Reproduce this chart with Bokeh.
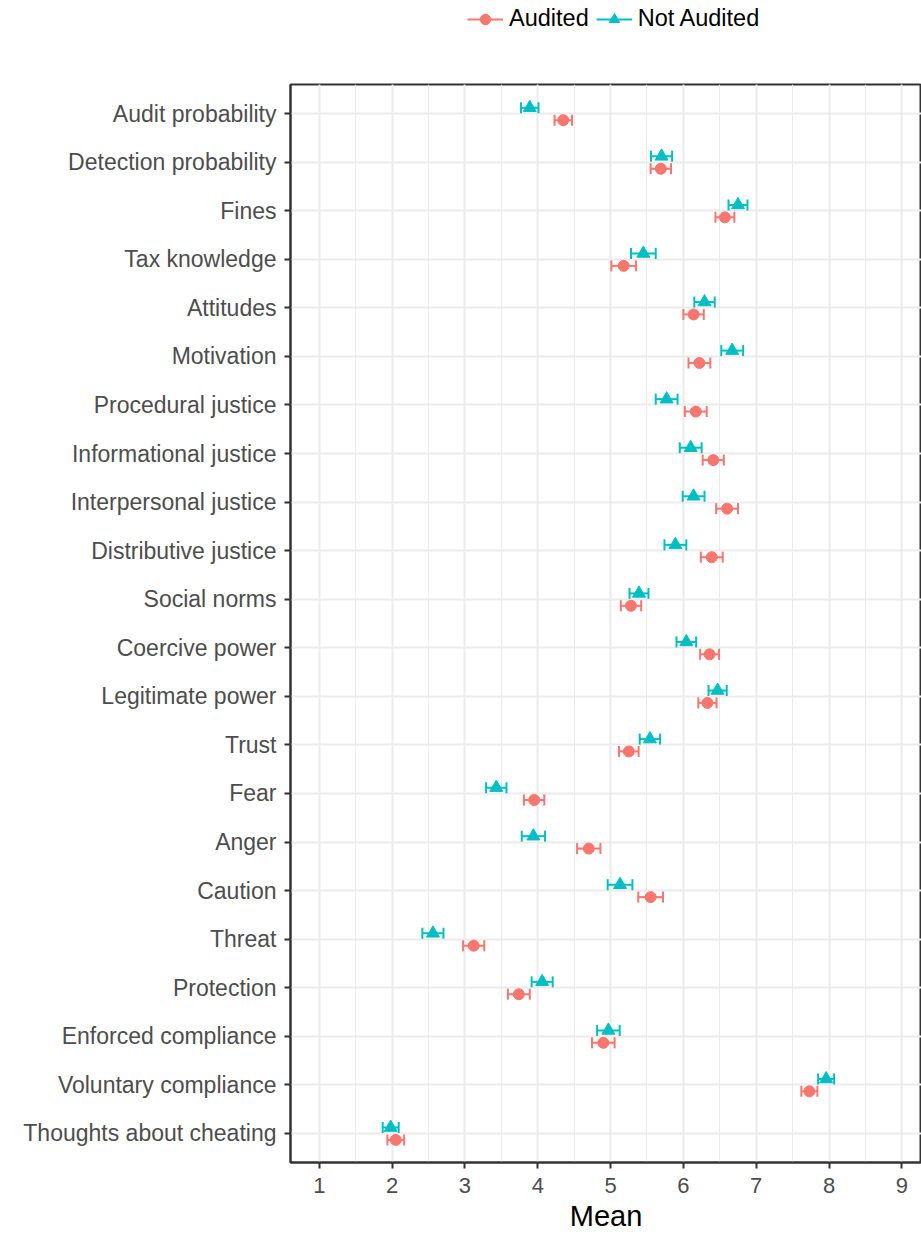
import math
from bokeh.plotting import figure
from bokeh.layouts import column
from bokeh.models import (ColumnDataSource, Range1d, FactorRange, Legend, LegendItem,
                          SingleIntervalTicker)
from bokeh.transform import dodge
from bokeh.embed import file_html
from bokeh.resources import INLINE

categories = ["Audit probability", "Detection probability", "Fines", "Tax knowledge",
              "Attitudes", "Motivation", "Procedural justice", "Informational justice",
              "Interpersonal justice", "Distributive justice", "Social norms",
              "Coercive power", "Legitimate power", "Trust", "Fear", "Anger", "Caution",
              "Threat", "Protection", "Enforced compliance", "Voluntary compliance",
              "Thoughts about cheating"]

audited_mean = [4.35, 5.69, 6.57, 5.18, 6.14, 6.22, 6.17, 6.41, 6.60, 6.39, 5.28,
                6.36, 6.33, 5.25, 3.95, 4.70, 5.55, 3.12, 3.74, 4.90, 7.73, 2.05]
audited_ci = [0.12, 0.14, 0.13, 0.17, 0.14, 0.15, 0.15, 0.145, 0.15, 0.15, 0.14,
              0.13, 0.125, 0.135, 0.14, 0.16, 0.17, 0.145, 0.15, 0.155, 0.11, 0.115]
not_audited_mean = [3.89, 5.70, 6.75, 5.45, 6.29, 6.67, 5.77, 6.10, 6.14, 5.89, 5.39,
                    6.04, 6.47, 5.54, 3.43, 3.94, 5.13, 2.56, 4.06, 4.97, 7.96, 1.98]
not_audited_ci = [0.12, 0.145, 0.13, 0.17, 0.14, 0.15, 0.15, 0.15, 0.15, 0.15, 0.13,
                  0.135, 0.125, 0.14, 0.14, 0.16, 0.17, 0.145, 0.145, 0.155, 0.11, 0.11]

x_ticks = [1, 2, 3, 4, 5, 6, 7, 8, 9]
series_names = ["Audited", "Not Audited"]

RED = "#F8766D"
TEAL = "#00BFC4"
FONT = "Liberation Sans"

factors = list(reversed(categories))

p = figure(width=921, height=1152, output_backend="svg", toolbar_location=None,
           x_range=Range1d(0.604, 9.27),
           y_range=FactorRange(factors=factors, range_padding=0.1,
                               range_padding_units="absolute"),
           min_border_left=290, min_border_right=0, min_border_top=2,
           min_border_bottom=72)
p.background_fill_color = "white"
p.border_fill_color = "white"
p.outline_line_color = "#333333"
p.outline_line_width = 2

# small strip on top holding the legend
leg_fig = figure(width=921, height=82, output_backend="svg", toolbar_location=None,
                 min_border=0)
leg_fig.outline_line_color = None
leg_fig.axis.visible = False
leg_fig.grid.visible = False
leg_fig.background_fill_color = "white"
leg_fig.border_fill_color = "white"


def src(means, cis):
    return ColumnDataSource(dict(
        cat=categories,
        mean=means,
        lo=[m - c for m, c in zip(means, cis)],
        hi=[m + c for m, c in zip(means, cis)],
    ))

s_aud = src(audited_mean, audited_ci)
s_not = src(not_audited_mean, not_audited_ci)

legend_renderers = {}
for name, s, color, off, marker, msize in [
        ("Not Audited", s_not, TEAL, 0.12, "triangle", 13),
        ("Audited", s_aud, RED, -0.135, "circle", 11)]:
    ypos = dodge("cat", off, range=p.y_range)
    p.segment(x0="lo", x1="hi", y0=ypos, y1=ypos, source=s,
              line_color=color, line_width=2)
    p.scatter(x="lo", y=ypos, source=s, marker="dash", angle=math.pi / 2,
              size=11, line_color=color, line_width=2)
    p.scatter(x="hi", y=ypos, source=s, marker="dash", angle=math.pi / 2,
              size=11, line_color=color, line_width=2)
    p.scatter(x="mean", y=ypos, source=s, marker=marker, size=msize,
              fill_color=color, line_color=color)
    # legend keys (hidden renderers in the legend strip)
    lseg = leg_fig.segment(x0="lo", x1="hi", y0="mean", y1="mean", source=s,
                           line_color=color, line_width=2, visible=False)
    lpts = leg_fig.scatter(x="mean", y="mean", source=s, marker=marker, size=msize,
                           fill_color=color, line_color=color, visible=False)
    legend_renderers[name] = [lseg, lpts]

# axes
p.xaxis.ticker = SingleIntervalTicker(interval=1, num_minor_ticks=2)
p.xaxis.axis_label = "Mean"
p.xaxis.axis_label_text_font = FONT
p.xaxis.axis_label_text_font_size = "29px"
p.xaxis.axis_label_text_font_style = "normal"
p.xaxis.axis_label_text_color = "black"
p.xaxis.axis_label_text_line_height = 1.0
p.xaxis.axis_label_standoff = 4
for ax in (p.xaxis[0], p.yaxis[0]):
    ax.axis_line_color = "#333333"
    ax.axis_line_width = 2
    ax.major_tick_line_color = "#333333"
    ax.major_tick_line_width = 2
    ax.major_tick_out = 6
    ax.major_tick_in = 0
    ax.minor_tick_line_color = None
    ax.major_label_text_font = FONT
    ax.major_label_text_color = "#4D4D4D"
p.xaxis.major_label_text_font_size = "22px"
p.xaxis.major_label_standoff = 9
p.yaxis.major_label_text_font_size = "23px"
p.yaxis.major_label_standoff = 8

p.xgrid.grid_line_color = "#EBEBEB"
p.xgrid.grid_line_width = 2
p.xgrid.minor_grid_line_color = "#EBEBEB"
p.xgrid.minor_grid_line_width = 1
p.ygrid.grid_line_color = "#EBEBEB"
p.ygrid.grid_line_width = 2

legend = Legend(items=[LegendItem(label=n, renderers=legend_renderers[n])
                       for n in series_names],
                orientation="horizontal", location=(177, 50),
                glyph_width=36, glyph_height=26, label_standoff=6, spacing=7,
                padding=0, margin=0, border_line_color=None,
                background_fill_alpha=0,
                label_text_font=FONT, label_text_font_size="23.5px",
                label_text_color="black")
leg_fig.add_layout(legend, "center")

layout = column(leg_fig, p, spacing=0)
open("out.html", "w").write(file_html(layout, INLINE))
